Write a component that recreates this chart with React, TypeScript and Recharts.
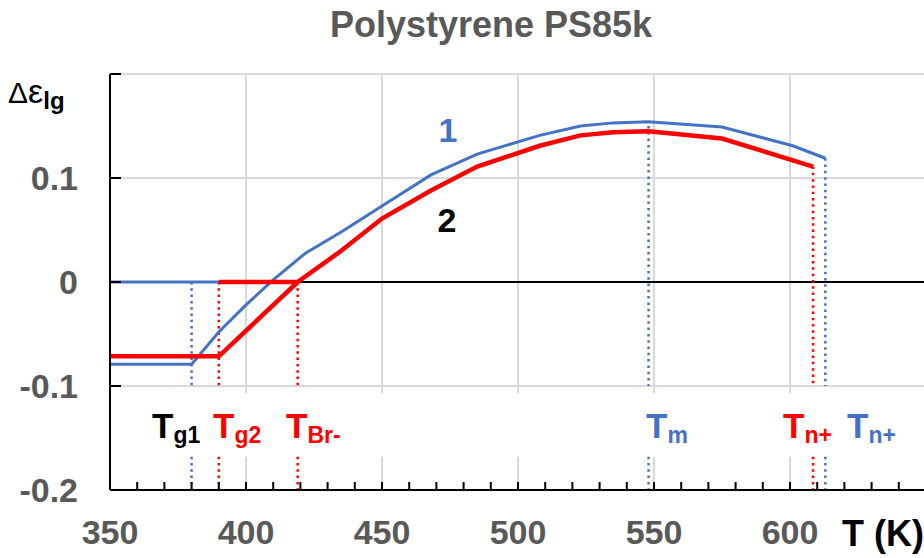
// Polystyrene PS85k: Δε_lg vs T, two curves with transition-temperature markers.
import { LineChart, Line, XAxis, YAxis, CartesianGrid, ReferenceLine, ReferenceArea } from 'recharts'

const BLUE = '#4472C4'
const RED = '#FF0000'
const GREY = '#595959'
const FONT = '"Liberation Sans", Arial, sans-serif'

// curve 1 (blue)
const s1T = [350, 380, 390, 400, 410, 422, 435, 450, 468, 485, 508, 523, 535, 548, 575, 601, 613]
const s1V = [-0.079, -0.079, -0.048, -0.022, 0.002, 0.028, 0.048, 0.073, 0.103, 0.123, 0.141, 0.15, 0.153, 0.154, 0.149, 0.131, 0.119]

// curve 2 (red)
const s2T = [350, 390, 419, 435, 450, 468, 485, 508, 523, 535, 548, 575, 608.5]
const s2V = [-0.0715, -0.0715, 0, 0.03, 0.061, 0.088, 0.111, 0.131, 0.141, 0.144, 0.145, 0.138, 0.111]

// zero-level pieces
const zeroT = [350, 650]
const zero1T = [350, 390]
const zero2T = [390, 419]

// transition markers
const markT = [380, 390, 419, 548, 608.5, 613]
const markTop = [0, 0, 0, 0.15, 0.111, 0.119]
const markColor = [BLUE, RED, RED, BLUE, RED, BLUE]
const markSub = ['g1', 'g2', 'Br-', 'm', 'n+', 'n+']
const markTextColor = ['#000', RED, RED, BLUE, RED, BLUE]
const markTextX = [152, 213, 286, 646, 783, 847]

const xTicks = [350, 360, 370, 380, 390, 400, 410, 420, 430, 440, 450, 460, 470, 480, 490, 500,
  510, 520, 530, 540, 550, 560, 570, 580, 590, 600, 610, 620, 630, 640, 650]
const xLabels = [350, 400, 450, 500, 550, 600]
const yTicks = [-0.2, -0.1, 0, 0.1, 0.2]
const yLabels = [-0.2, -0.1, 0, 0.1]

const BAND_TOP = -0.107
const BAND_BOTTOM = -0.168

const pts = (ts: number[], vs: number[]) => ts.map((t, i) => ({ T: t, v: vs[i] }))
const flat = (ts: number[]) => ts.map(t => ({ T: t, v: 0 }))

const tickStyle = { fill: GREY, fontSize: 34, fontWeight: 700, fontFamily: FONT }

export default function App() {
  return (
    <div style={{ position: 'absolute', left: 0, top: 0, width: 924, height: 558, overflow: 'hidden', background: '#fff' }}>
      <LineChart width={940} height={558} margin={{ top: 74, right: 14, bottom: 0, left: 0 }}>
        <CartesianGrid
          stroke="#D9D9D9"
          strokeWidth={2}
          verticalValues={[400, 450, 500, 550, 600, 650]}
          horizontalValues={[-0.1, 0.1, 0.2]}
        />
        <ReferenceArea x1={350} x2={650} y1={BAND_BOTTOM} y2={BAND_TOP} fill="#fff" fillOpacity={1} stroke="none" />
        <XAxis
          type="number"
          dataKey="T"
          domain={[350, 650]}
          ticks={xTicks}
          interval={0}
          allowDataOverflow
          height={68}
          axisLine={{ stroke: '#000', strokeWidth: 2 }}
          tickLine={{ stroke: '#000', strokeWidth: 2 }}
          tickSize={-8}
          tickMargin={38}
          tick={tickStyle}
          tickFormatter={(v: number) => (xLabels.includes(v) ? String(v) : '')}
        />
        <YAxis
          type="number"
          domain={[-0.2, 0.2]}
          ticks={yTicks}
          interval={0}
          allowDataOverflow
          width={110}
          axisLine={{ stroke: '#000', strokeWidth: 2 }}
          tickLine={{ stroke: '#000', strokeWidth: 2 }}
          tickSize={-11}
          tickMargin={43}
          tick={tickStyle}
          tickFormatter={(v: number) => (yLabels.includes(v) ? (v === 0 ? '0' : v.toFixed(1)) : '')}
        />
        <Line data={flat(zeroT)} dataKey="v" stroke="#000" strokeWidth={2} dot={false} isAnimationActive={false} />
        {markT.map((t, i) => (
          <ReferenceLine
            key={'a' + i}
            segment={[{ x: t, y: markTop[i] }, { x: t, y: -0.1 }]}
            stroke={markColor[i]}
            strokeWidth={2.5}
            strokeDasharray="2.5 3.8"
          />
        ))}
        {markT.map((t, i) => (
          <ReferenceLine
            key={'b' + i}
            segment={[{ x: t, y: BAND_BOTTOM }, { x: t, y: -0.2 }]}
            stroke={markColor[i]}
            strokeWidth={2.5}
            strokeDasharray="2.5 3.8"
          />
        ))}
        <Line data={flat(zero1T)} dataKey="v" stroke={BLUE} strokeWidth={3} dot={false} isAnimationActive={false} />
        <Line data={pts(s1T, s1V)} dataKey="v" stroke={BLUE} strokeWidth={3} dot={false} isAnimationActive={false} />
        <Line data={flat(zero2T)} dataKey="v" stroke={RED} strokeWidth={4.5} dot={false} isAnimationActive={false} />
        <Line data={pts(s2T, s2V)} dataKey="v" stroke={RED} strokeWidth={4.5} dot={false} isAnimationActive={false} />
      </LineChart>

      {/* text overlay */}
      <svg width={924} height={558} style={{ position: 'absolute', left: 0, top: 0, pointerEvents: 'none' }} fontFamily={FONT}>
        <text x={491} y={37} textAnchor="middle" fontSize={36} fontWeight={700} fill={GREY}>Polystyrene PS85k</text>
        <text x={8} y={103} fontSize={30} fill="#000">
          Δ<tspan fontSize={34}>ε</tspan><tspan fontSize={24} fontWeight={700} dy={6}>lg</tspan>
        </text>
        <text x={448} y={142} textAnchor="middle" fontSize={34} fontWeight={700} fill={BLUE}>1</text>
        <text x={447} y={232} textAnchor="middle" fontSize={34} fontWeight={700} fill="#000">2</text>
        <text x={842} y={546} fontSize={36} fontWeight={700} fill="#000">T (K)</text>
        {markSub.map((s, i) => (
          <text key={i} x={markTextX[i]} y={438} fontSize={35} fontWeight={700} fill={markTextColor[i]}>
            T<tspan fontSize={23} dy={5}>{s}</tspan>
          </text>
        ))}
      </svg>
    </div>
  )
}
